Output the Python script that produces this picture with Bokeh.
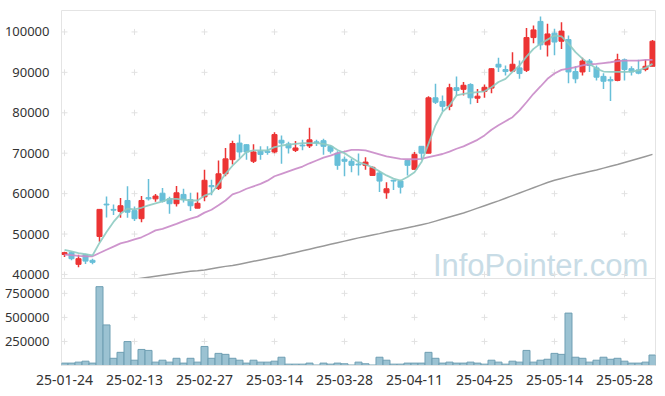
from bokeh.plotting import figure
from bokeh.layouts import column
from bokeh.models import ColumnDataSource, Range1d, FixedTicker, Label, BasicTickFormatter
from bokeh.embed import file_html
from bokeh.resources import INLINE

dates = ["25-01-24", "25-01-31", "25-02-03", "25-02-04", "25-02-05", "25-02-06", "25-02-07", "25-02-10",
         "25-02-11", "25-02-12", "25-02-13", "25-02-14", "25-02-17", "25-02-18", "25-02-19", "25-02-20",
         "25-02-21", "25-02-24", "25-02-25", "25-02-26", "25-02-27", "25-02-28", "25-03-04", "25-03-05",
         "25-03-06", "25-03-07", "25-03-10", "25-03-11", "25-03-12", "25-03-13", "25-03-14", "25-03-17",
         "25-03-18", "25-03-19", "25-03-20", "25-03-21", "25-03-24", "25-03-25", "25-03-26", "25-03-27",
         "25-03-28", "25-03-31", "25-04-01", "25-04-02", "25-04-03", "25-04-04", "25-04-07", "25-04-08",
         "25-04-09", "25-04-10", "25-04-11", "25-04-14", "25-04-15", "25-04-16", "25-04-17", "25-04-18",
         "25-04-21", "25-04-22", "25-04-23", "25-04-24", "25-04-25", "25-04-28", "25-04-29", "25-04-30",
         "25-05-02", "25-05-07", "25-05-08", "25-05-09", "25-05-12", "25-05-13", "25-05-14", "25-05-15",
         "25-05-16", "25-05-19", "25-05-20", "25-05-21", "25-05-22", "25-05-23", "25-05-26", "25-05-27",
         "25-05-28", "25-05-29", "25-05-30", "25-06-02", "25-06-04"]

opens = [44950, 45400, 42500, 44900, 43500, 49400, 57400, 56100, 55600, 58300,
         55800, 53800, 59000, 58700, 60100, 58700, 57500, 59800, 58500, 56400,
         59200, 62000, 61300, 64900, 68400, 72500, 72100, 68000, 70500, 70500,
         70300, 73200, 72300, 70700, 72000, 71800, 72800, 73100, 71700, 70000,
         68500, 68000, 67300, 67000, 64500, 65100, 60200, 63300, 63100, 68200,
         66000, 71700, 70000, 83700, 82800, 81600, 86200, 85800, 87000, 83600,
         85300, 86100, 92000, 90700, 90300, 91100, 90500, 98600, 102600, 96800,
         99700, 97700, 98100, 90200, 90100, 92800, 91100, 89000, 88200, 88000,
         93100, 90900, 90600, 90700, 91500]
highs = [45600, 45700, 44900, 45100, 43900, 56100, 59300, 57300, 58900, 61800,
         56800, 59400, 63600, 59900, 61400, 59200, 61900, 61200, 60200, 60300,
         65900, 63400, 68200, 71300, 73100, 74600, 72200, 72200, 71700, 71700,
         75200, 74400, 72800, 73000, 73300, 76300, 73300, 73600, 72000, 70500,
         69200, 68600, 69900, 69000, 66700, 65600, 62800, 63400, 63400, 68400,
         70300, 71700, 84100, 87200, 84300, 87200, 89000, 87600, 87300, 85900,
         87000, 91000, 93600, 91700, 95000, 92900, 101000, 101600, 103800, 102000,
         100800, 102400, 99100, 91500, 93600, 93300, 91700, 89800, 89000, 94600,
         93400, 91500, 93100, 93100, 98000]
lows = [44300, 43500, 41800, 42600, 42500, 48100, 54100, 54700, 54000, 54000,
        53200, 52900, 58300, 58000, 57800, 55000, 56800, 57800, 55700, 56400,
        58100, 59600, 60900, 64300, 67200, 68900, 68400, 67600, 68400, 69600,
        70000, 67400, 69900, 70300, 70700, 71300, 71800, 69600, 69900, 65900,
        64300, 65300, 64500, 65900, 64500, 60400, 58700, 60900, 60000, 64500,
        66000, 68400, 70000, 82200, 80400, 80600, 84300, 84300, 82100, 82400,
        83700, 84800, 90100, 89200, 90100, 88400, 90100, 97200, 95600, 93900,
        94200, 95800, 87300, 87300, 89200, 90100, 88000, 85900, 82900, 87800,
        88000, 89200, 89500, 90300, 91500]
closes = [45400, 43900, 43900, 43300, 43000, 56100, 57200, 55900, 57000, 55400,
          53800, 58300, 58700, 59400, 58100, 57500, 60200, 58500, 57000, 57600,
          63300, 61700, 64900, 68600, 72400, 70300, 70300, 70300, 69700, 70200,
          74600, 72500, 71300, 71300, 71800, 73300, 72600, 71700, 70500, 67000,
          68000, 67000, 67100, 67800, 66500, 63100, 61200, 63100, 61600, 67000,
          69700, 70000, 83700, 82600, 81600, 86200, 85500, 86800, 83700, 84100,
          86300, 90900, 91300, 90200, 92000, 89700, 98600, 100500, 96800, 99500,
          97500, 100200, 90100, 88400, 92800, 91700, 88800, 87800, 87900, 93100,
          90700, 90100, 89800, 91500, 97700]

ma5 = [46100, 45700, 45300, 45000, 44700, 47800, 50500, 53000, 55000, 56300,
       56100, 56500, 57100, 57600, 58100, 58700, 58700, 58500, 58300, 58300,
       59500, 60100, 62400, 64900, 66900, 68600, 70300, 70700, 70700, 70700,
       71500, 71900, 72100, 72300, 72500, 72500, 72500, 72300, 71900, 70800,
       70000, 68900, 67800, 67200, 66500, 65500, 64500, 63700, 63200, 64100,
       65300, 67800, 72300, 76900, 80200, 81800, 84300, 84700, 84900, 85100,
       85300, 86300, 87600, 88400, 90100, 91700, 93900, 95800, 97100, 98100,
       99100, 98900, 97100, 95000, 93400, 92100, 90900, 90200, 90100, 90100,
       90100, 90200, 90500, 91100, 92100]
ma20 = [44900, 44800, 44600, 44500, 44500, 45300, 46100, 46900, 47700, 48100,
        48700, 49200, 50000, 50900, 51300, 51900, 52500, 53200, 53800, 54300,
        55300, 56000, 57100, 58300, 59800, 60400, 61200, 61800, 62400, 63200,
        64300, 64900, 65500, 66100, 66700, 67500, 68200, 68900, 69400, 70000,
        70400, 70800, 70800, 70700, 70200, 69700, 69200, 68900, 68600, 68500,
        68500, 68600, 69000, 69400, 69800, 70400, 71100, 71700, 72500, 73300,
        74400, 75800, 76900, 77900, 78900, 80600, 82600, 84700, 86500, 88400,
        89700, 90600, 90900, 91300, 91700, 92000, 92100, 92300, 92500, 92800,
        92900, 92900, 92900, 93100, 93100]
nan = float("nan")
ma120 = [nan, nan, nan, nan, nan, nan, nan, nan, 38300, 38550,
         38800, 39050, 39300, 39550, 39800, 40050, 40300, 40550, 40800, 40900,
         41100, 41400, 41700, 42000, 42200, 42550, 42900, 43250, 43600, 43950,
         44300, 44650, 45050, 45450, 45850, 46250, 46650, 47050, 47450, 47850,
         48250, 48650, 49050, 49400, 49750, 50100, 50500, 50850, 51200, 51550,
         51900, 52300, 52700, 53200, 53700, 54200, 54700, 55200, 55800, 56400,
         57000, 57600, 58200, 58850, 59500, 60150, 60800, 61450, 62100, 62750,
         63300, 63750, 64200, 64650, 65050, 65450, 65850, 66300, 66750, 67200,
         67700, 68200, 68700, 69200, 69700]
volumes = [25000, 25000, 35000, 45000, 25000, 820000, 422000, 75000, 137000, 249000,
           55000, 167000, 157000, 35000, 55000, 35000, 75000, 25000, 75000, 35000,
           198000, 75000, 126000, 116000, 75000, 55000, 25000, 55000, 35000, 35000,
           45000, 86000, 14000, 14000, 14000, 25000, 5000, 25000, 14000, 25000,
           18000, 5000, 35000, 18000, 5000, 86000, 55000, 14000, 14000, 25000,
           25000, 25000, 137000, 75000, 25000, 35000, 25000, 25000, 35000, 25000,
           14000, 55000, 35000, 14000, 45000, 35000, 157000, 35000, 55000, 65000,
           126000, 116000, 545000, 86000, 75000, 35000, 55000, 86000, 65000, 75000,
           45000, 25000, 25000, 35000, 109000]

x_ticks = [0, 10, 20, 30, 40, 50, 60, 70, 80]
price_ticks = [40000, 50000, 60000, 70000, 80000, 90000, 100000]
volume_ticks = [250000, 500000, 750000]

RED = "#ec3434"
BLUE = "#68bfd8"
FONT = "Noto Sans"
LABEL_COLOR = "#333333"

idx = list(range(len(dates)))
colors = [RED if c >= o else BLUE for o, c in zip(opens, closes)]
src = ColumnDataSource(dict(
    x=idx, high=highs, low=lows,
    top=[max(o, c) for o, c in zip(opens, closes)],
    bottom=[min(o, c) for o, c in zip(opens, closes)],
    color=colors))

x_range = Range1d(-0.43, 84.43)

p1 = figure(width=657, height=286, x_range=x_range, y_range=Range1d(39000, 105300),
            output_backend="svg", toolbar_location=None, x_axis_location=None,
            min_border_left=61, min_border_right=2, min_border_top=10, min_border_bottom=8)
p1.outline_line_color = "#e4e4e4"
p1.grid.grid_line_color = None

gx = [x for x in x_ticks for _ in price_ticks]
gy = [y for _ in x_ticks for y in price_ticks]
p1.scatter(gx, gy, marker="cross", size=6, line_color="#e2e2e2", line_width=1)

wm = Label(x=83.4, y=42300, text="InfoPointer.com", text_align="right", text_baseline="alphabetic",
           text_font="Liberation Sans", text_font_size="31px", text_color="#c8dce6", level="underlay")
p1.add_layout(wm)

p1.segment(x0="x", y0="low", x1="x", y1="high", line_color="color", line_width=1.5, source=src)
p1.vbar(x="x", width=0.72, top="top", bottom="bottom", fill_color="color", line_color="color",
        line_width=1, source=src)

p1.line(idx, ma120, line_color="#999999", line_width=1.5)
p1.line(idx, ma20, line_color="#c98ac8", line_width=1.8, line_alpha=0.9)
p1.line(idx, ma5, line_color="#8ecbc2", line_width=1.8, line_alpha=0.9)

p1.yaxis.ticker = FixedTicker(ticks=price_ticks)
p1.yaxis.formatter = BasicTickFormatter(use_scientific=False)
p1.yaxis.axis_line_color = None
p1.yaxis.major_tick_line_color = None
p1.yaxis.minor_tick_line_color = None
p1.yaxis.major_label_standoff = 6
p1.yaxis.major_label_text_font = FONT
p1.yaxis.major_label_text_font_size = "13px"
p1.yaxis.major_label_text_color = LABEL_COLOR

p2 = figure(width=657, height=109, x_range=x_range, y_range=Range1d(0, 905000),
            output_backend="svg", toolbar_location=None,
            min_border_left=61, min_border_right=2, min_border_top=0, min_border_bottom=20)
p2.outline_line_color = "#e4e4e4"
p2.grid.grid_line_color = None
p2.border_fill_alpha = 0
p2.styles = {"margin-top": "-8px"}

vx = [x for x in x_ticks for _ in volume_ticks]
vy = [y for _ in x_ticks for y in volume_ticks]
p2.scatter(vx, vy, marker="cross", size=6, line_color="#e2e2e2", line_width=1)
p2.vbar(x=idx, top=volumes, bottom=0, width=1.0, fill_color="#96bfd0", fill_alpha=0.95,
        line_color="#6f9fb3", line_width=1)

p2.yaxis.ticker = FixedTicker(ticks=volume_ticks)
p2.yaxis.formatter = BasicTickFormatter(use_scientific=False)
p2.yaxis.axis_line_color = None
p2.yaxis.major_tick_line_color = None
p2.yaxis.minor_tick_line_color = None
p2.yaxis.major_label_standoff = 6
p2.yaxis.major_label_text_font = FONT
p2.yaxis.major_label_text_font_size = "13px"
p2.yaxis.major_label_text_color = LABEL_COLOR

p2.xaxis.ticker = FixedTicker(ticks=x_ticks)
p2.xaxis.major_label_overrides = {i: dates[i] for i in x_ticks}
p2.xaxis.axis_line_color = "#e4e4e4"
p2.xaxis.major_tick_line_color = None
p2.xaxis.minor_tick_line_color = None
p2.xaxis.major_label_standoff = 3
p2.xaxis.major_label_text_font = FONT
p2.xaxis.major_label_text_font_size = "14px"
p2.xaxis.major_label_text_color = LABEL_COLOR

layout = column(p1, p2, spacing=0)
open("out.html", "w").write(file_html(layout, INLINE))
